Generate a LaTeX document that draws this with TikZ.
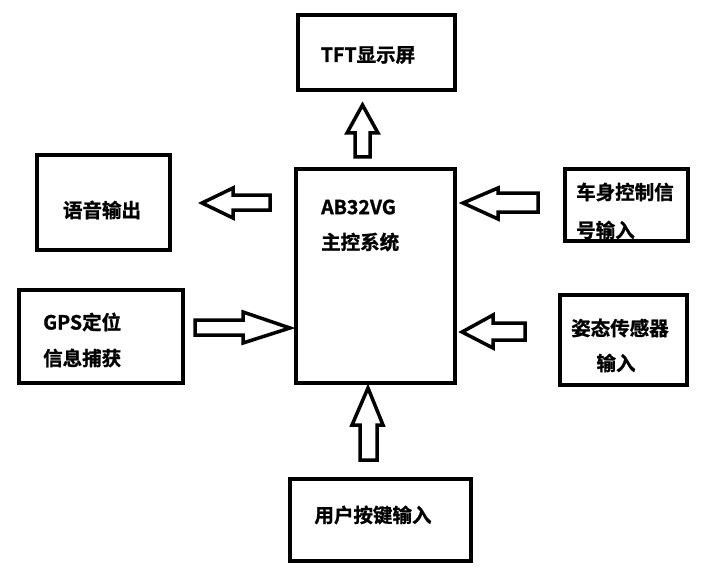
\documentclass[tikz,border=0pt]{standalone}
\usepackage{fontspec}
\newfontfamily\cjk{Noto Sans CJK SC}[BoldFont={Noto Sans CJK SC Bold},BoldFeatures={FakeBold=1.2}]
\begin{document}
\begin{tikzpicture}[x=1pt,y=-1pt,
  blk/.style={draw,line width=4pt,inner sep=0pt},
  lbl/.style={inner sep=0pt,font=\cjk\bfseries\fontsize{19.5}{22}\selectfont},
  barrow/.style={draw,line width=3.5pt,line join=miter,fill=white}]
\useasboundingbox (0,0) rectangle (706,588);
% boxes
\node[blk,minimum width=157pt,minimum height=75pt] (tft) at (376.5,52.5) {};
\node[blk,minimum width=159pt,minimum height=214pt] (mcu) at (375.5,276) {};
\node[blk,minimum width=133pt,minimum height=95pt] (voice) at (103.5,202.5) {};
\node[blk,minimum width=164pt,minimum height=93pt] (gps) at (101,336.5) {};
\node[blk,minimum width=123pt,minimum height=72pt] (body) at (626.5,205) {};
\node[blk,minimum width=127pt,minimum height=90pt] (att) at (623.5,340) {};
\node[blk,minimum width=181pt,minimum height=82pt] (key) at (380.5,520) {};
% texts
\node[lbl] (ttft) at (368,55) {TFT显示屏};
\node[lbl,anchor=west] (tmcu1) at (321,207) {AB32VG};
\node[lbl,anchor=west] (tmcu2) at (321,242) {主控系统};
\node[lbl] (tvoice) at (102,210) {语音输出};
\node[lbl,anchor=west] (tgps1) at (43,322) {GPS定位};
\node[lbl,anchor=west] (tgps2) at (43,358) {信息捕获};
\node[lbl,anchor=west] (tbody1) at (576,192) {车身控制信};
\node[lbl,anchor=west] (tbody2) at (576,230) {号输入};
\node[lbl,anchor=west] (tatt1) at (571,328) {姿态传感器};
\node[lbl] (tatt2) at (616,363) {输入};
\node[lbl] (tkey) at (373,515) {用户按键输入};
% block arrows
\draw[barrow] (362.5,105) -- (378,133) -- (370,133) -- (370,157) -- (355,157) -- (355,133) -- (347,133) -- cycle;
\draw[barrow] (202,203) -- (233,188) -- (233,195) -- (270,195) -- (270,210) -- (233,210) -- (233,218) -- cycle;
\draw[barrow] (290,328) -- (243,343) -- (243,335) -- (195,335) -- (195,320) -- (243,320) -- (243,312) -- cycle;
\draw[barrow] (463,203) -- (498,188) -- (498,193) -- (538,193) -- (538,212) -- (498,212) -- (498,219) -- cycle;
\draw[barrow] (462,332) -- (493,315) -- (493,323) -- (525,323) -- (525,340) -- (493,340) -- (493,348) -- cycle;
\draw[barrow] (368,388) -- (383,425) -- (377,425) -- (377,460) -- (360,460) -- (360,425) -- (352,425) -- cycle;
\end{tikzpicture}
\end{document}
